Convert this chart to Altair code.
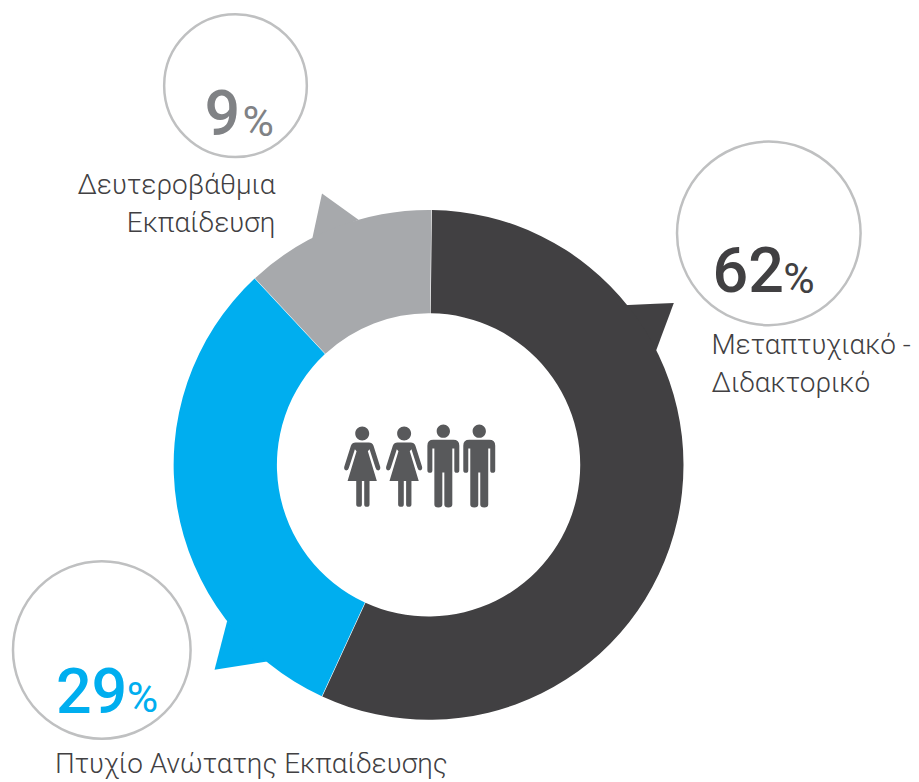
import altair as alt
import pandas as pd

# ring
categories = ["Μεταπτυχιακό - Διδακτορικό", "Πτυχίο Ανώτατης Εκπαίδευσης", "Δευτεροβάθμια Εκπαίδευση"]
shares = [56.67, 31.2, 12.13]
colors = ["#414042", "#00aeef", "#a7a9ac"]

# pointers on the ring (x, top, bottom)
ptr_group = ["d", "d", "d", "g", "g", "g", "b", "b", "b"]
ptr_x = [623.3, 656, 674.3, 311.7, 321.7, 358.3, 214, 226.7, 266.7]
ptr_y = [301, 299.5, 298.7, 235.3, 189, 215.3, 666.3, 617.3, 658]
ptr_y2 = [301, 348, 298.7, 235.3, 231, 215.3, 666.3, 664.3, 658]
ptr_color = ["#414042"] * 3 + ["#a7a9ac"] * 3 + ["#00aeef"] * 3

# outlined circles
circ_x = [769.5, 235, 101]
circ_y = [229, 81, 646.5]
circ_d = [184, 143, 178]

# texts
num_text = ["62", "9", "29"]
num_x = [713, 204, 55]
num_y = [288, 130, 710]
num_color = ["#414042", "#808285", "#00aeef"]
pct_x = [784, 242, 126]
pct_y = [289, 131, 709]

lab_text = ["Μεταπτυχιακό -", "Διδακτορικό", "Πτυχίο Ανώτατης Εκπαίδευσης"]
lab_x = [712, 712, 54]
lab_y = [350, 388, 770]
lab_r_text = ["Δευτεροβάθμια", "Εκπαίδευση"]
lab_r_x = [275, 275]
lab_r_y = [190, 228]

# people icon positions
woman_x = [362, 404]
man_x = [443.3, 479.3]
icon_y = [461.3, 461.3]

WOMAN = ("M-21,-95a21,21 0 1,0 42,0a21,21 0 1,0 -42,0Z "
         "M-20,-68L20,-68Q30,-68 34,-58L54,5Q56,14 48,16Q42,16 40,8L22,-48L17,-42L44,48"
         "L22,48L22,118Q22,125 14,125Q6,125 6,118L6,48L-1,48L-1,118Q-1,125 -9,125Q-18,125 -18,118L-18,48"
         "L-44,48L-17,-42L-22,-48L-40,8Q-42,16 -48,16Q-56,14 -54,5L-34,-58Q-30,-68 -20,-68Z")
MAN = ("M-20,-102a20,20 0 1,0 40,0a20,20 0 1,0 -40,0Z "
       "M-30,-76L30,-76Q48,-76 48,-58L48,15Q48,23 40,23Q33,23 33,15L33,-50L27,-50L27,118Q27,127 15,127"
       "Q3,127 3,118L3,22L-3,22L-3,118Q-3,127 -15,127Q-27,127 -27,118L-27,-50L-33,-50L-33,15Q-33,23 -40,23"
       "Q-48,23 -48,15L-48,-58Q-48,-76 -30,-76Z")

W, H = 903, 770
xs = alt.Scale(domain=[8, 8 + W], range=[0, W], nice=False, zero=False)
ys = alt.Scale(domain=[8, 8 + H], range=[0, H], nice=False, zero=False)
X = lambda f: alt.X(f, type="quantitative", scale=xs, axis=None)
Y = lambda f: alt.Y(f, type="quantitative", scale=ys, axis=None)

ring = alt.Chart(pd.DataFrame({
    "cat": categories, "share": shares, "order": [0, 1, 2],
    "cx": [428.5] * 3, "cy": [461] * 3,
})).mark_arc(outerRadius=255.5, innerRadius=152, padAngle=0.002).encode(
    x=X("cx"), y=Y("cy"),
    theta=alt.Theta("share:Q", stack=True, scale=alt.Scale(domain=[0, 100], range=[0.012, 6.2952])),
    order=alt.Order("order:Q"),
    color=alt.Color("cat:N", scale=alt.Scale(domain=categories, range=colors), legend=None),
)

pointers = alt.Chart(pd.DataFrame({
    "g": ptr_group, "x": ptr_x, "y": ptr_y, "y2": ptr_y2, "c": ptr_color,
})).mark_area(interpolate="linear").encode(
    x=X("x"), y=Y("y"), y2="y2:Q", detail="g:N",
    fill=alt.Fill("c:N", scale=None),
)

circles = alt.Chart(pd.DataFrame({
    "x": circ_x, "y": circ_y, "s": [d * d for d in circ_d],
})).mark_point(shape="circle", filled=False, stroke="#bfc0c1", strokeWidth=2.5, opacity=1).encode(
    x=X("x"), y=Y("y"), size=alt.Size("s:Q", scale=None),
)

def text_layer(df, **kw):
    return alt.Chart(df).mark_text(baseline="alphabetic", **kw).encode(
        x=X("x"), y=Y("y"), text="t:N", color=alt.Color("c:N", scale=None))

nums = text_layer(pd.DataFrame({"x": num_x, "y": num_y, "t": num_text, "c": num_color}),
                  font="Roboto", fontSize=63, fontWeight=500, align="left")
pcts = text_layer(pd.DataFrame({"x": pct_x, "y": pct_y, "t": ["%"] * 3, "c": num_color}),
                  font="Roboto", fontSize=43, fontWeight=400, align="left")
labs = text_layer(pd.DataFrame({"x": lab_x, "y": lab_y, "t": lab_text, "c": ["#414042"] * 3}),
                  font="Roboto", fontSize=28, fontWeight=300, align="left")
labs_r = text_layer(pd.DataFrame({"x": lab_r_x, "y": lab_r_y, "t": lab_r_text, "c": ["#414042"] * 2}),
                    font="Roboto", fontSize=28, fontWeight=300, align="right")

women = alt.Chart(pd.DataFrame({"x": woman_x, "y": icon_y})).mark_point(
    shape=WOMAN, filled=True, color="#58595b", opacity=1, size=4 / 9, strokeWidth=0
).encode(x=X("x"), y=Y("y"))
men = alt.Chart(pd.DataFrame({"x": man_x, "y": icon_y})).mark_point(
    shape=MAN, filled=True, color="#58595b", opacity=1, size=4 / 9, strokeWidth=0
).encode(x=X("x"), y=Y("y"))

chart = alt.layer(pointers, ring, circles, nums, pcts, labs, labs_r, women, men).resolve_scale(
    color="independent"
).properties(width=W, height=H, padding=0).configure_view(stroke=None)

chart.save("out.html", embed_options={"renderer": "svg", "actions": False})
